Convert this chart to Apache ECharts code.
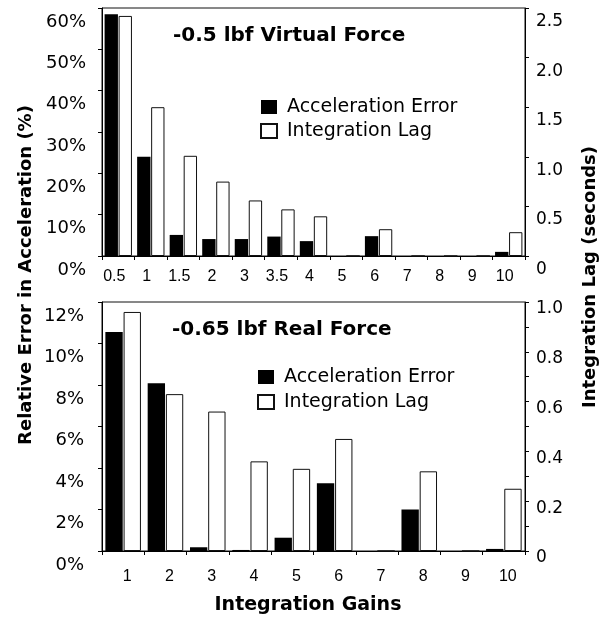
<!DOCTYPE html>
<html><head><meta charset="utf-8">
<script src="https://cdn.jsdelivr.net/npm/echarts@6/dist/echarts.min.js"></script>
<style>html,body{margin:0;padding:0;background:#fff}#c{width:610px;height:620px}</style>
</head><body><div id="c"></div>
<script>
// ---- data ----
const topGains = ['0.5','1','1.5','2','3','3.5','4','5','6','7','8','9','10'];
const topAccelError = [58.5, 24.0, 5.1, 4.1, 4.1, 4.7, 3.6, 0, 4.8, 0, 0, 0, 1.0];       // %
const topIntegrationLag = [2.42, 1.50, 1.01, 0.75, 0.56, 0.47, 0.40, 0, 0.27, 0, 0, 0, 0.24]; // s
const bottomGains = ['1','2','3','4','5','6','7','8','9','10'];
const bottomAccelError = [10.55, 8.08, 0.18, 0.05, 0.64, 3.27, 0, 2.0, 0, 0.1];          // %
const bottomIntegrationLag = [0.96, 0.63, 0.56, 0.36, 0.33, 0.45, 0, 0.32, 0, 0.25];     // s
// axis tick ranges
const topErrorRange = [0, 60, 10];
const topLagRange = [0, 2.5, 0.5];
const bottomErrorRange = [0, 12, 2];
const bottomLagRange = [0, 1.0, 0.2];
// texts
const topTitle = '-0.5 lbf Virtual Force';
const bottomTitle = '-0.65 lbf Real Force';
const seriesNames = ['Acceleration Error', 'Integration Lag'];
const leftAxisName = 'Relative Error in Acceleration (%)';
const rightAxisName = 'Integration Lag (seconds)';
const xAxisName = 'Integration Gains';

const DV = 'DejaVu Sans';
const LS = 'Liberation Sans, Arial, sans-serif';
const chart = echarts.init(document.getElementById('c'), null, {renderer: 'canvas'});

const gridBase = {left: 102, right: 85, show: true, borderColor: '#111', borderWidth: 1,
  backgroundColor: '#fff', containLabel: false, outerBoundsMode: 'none'};
const axisLineStyle = {show: true, lineStyle: {color: '#000', width: 1}};

function xAx(idx, data, pad, margin) {
  return {type: 'category', gridIndex: idx, data: data, boundaryGap: true,
    axisLine: axisLineStyle,
    axisTick: {show: true, length: 4, lineStyle: {color: '#000'}},
    axisLabel: {color: '#000', fontFamily: LS, fontSize: 16, margin: margin, padding: pad, interval: 0},
    splitLine: {show: false}};
}
function yAx(idx, range, pos, fmt, lh, margin, fs, minor) {
  return {type: 'value', gridIndex: idx, position: pos, min: range[0], max: range[1], interval: range[2],
    axisLine: axisLineStyle,
    axisTick: {show: true, length: 4, lineStyle: {color: '#000'}},
    minorTick: minor ? {show: true, splitNumber: 2, length: 4, lineStyle: {color: '#000'}} : {show: false},
    axisLabel: {color: '#000', fontFamily: DV, fontSize: fs, margin: margin, formatter: fmt,
      verticalAlign: 'top', lineHeight: lh, showMinLabel: true, showMaxLabel: true},
    splitLine: {show: false}};
}
const pctFmt = v => v + '%';
const secFmt = v => v === 0 ? '0' : v.toFixed(1);

const blackStyle = {color: '#000'};
const whiteStyle = {color: '#fff', borderColor: '#111', borderWidth: 1};

function legendAt(left, top, gap) {
  return {show: true, orient: 'vertical', left: left, top: top, padding: 0, itemGap: gap,
    itemWidth: 16, itemHeight: 14, selectedMode: false, icon: 'rect',
    data: seriesNames,
    textStyle: {color: '#000', fontFamily: DV, fontSize: 19, lineHeight: 20, padding: [0, 0, 0, 5]}};
}

const option = {
  animation: false,
  backgroundColor: '#fff',
  title: [
    {text: topTitle, left: 173, top: 26, padding: 0,
      textStyle: {fontFamily: DV, fontWeight: 'bold', fontSize: 20, lineHeight: 20, color: '#000'}},
    {text: bottomTitle, left: 172, top: 320, padding: 0,
      textStyle: {fontFamily: DV, fontWeight: 'bold', fontSize: 20, lineHeight: 20, color: '#000'}}
  ],
  legend: [legendAt(260, 97, 4), legendAt(257, 367, 5)],
  grid: [
    Object.assign({}, gridBase, {top: 8, height: 248}),
    Object.assign({}, gridBase, {top: 302, height: 249})
  ],
  xAxis: [
    xAx(0, topGains, [0, 8, 0, 0], 13),
    xAx(1, bottomGains, [0, 0, 0, 8], 18)
  ],
  yAxis: [
    yAx(0, topErrorRange, 'left', pctFmt, 28, 16, 18, false),
    yAx(0, topLagRange, 'right', secFmt, 27, 11, 17, false),
    yAx(1, bottomErrorRange, 'left', pctFmt, 28, 18, 18, false),
    yAx(1, bottomLagRange, 'right', secFmt, 14, 11, 17, true)
  ],
  series: [
    {name: seriesNames[0], type: 'bar', xAxisIndex: 0, yAxisIndex: 0, data: topAccelError,
      barWidth: '41%', barGap: '5%', itemStyle: blackStyle},
    {name: seriesNames[1], type: 'bar', xAxisIndex: 0, yAxisIndex: 1, data: topIntegrationLag,
      barWidth: '41%', barGap: '5%', itemStyle: whiteStyle},
    {name: seriesNames[0], type: 'bar', xAxisIndex: 1, yAxisIndex: 2, data: bottomAccelError,
      barWidth: '41%', barGap: '5%', itemStyle: blackStyle},
    {name: seriesNames[1], type: 'bar', xAxisIndex: 1, yAxisIndex: 3, data: bottomIntegrationLag,
      barWidth: '41%', barGap: '5%', itemStyle: whiteStyle}
  ],
  graphic: [
    {type: 'text', x: 26, y: 275, rotation: Math.PI / 2,
      style: {text: leftAxisName, fontFamily: DV, fontWeight: 'bold', fontSize: 18, fill: '#000',
        align: 'center', verticalAlign: 'middle'}},
    {type: 'text', x: 590, y: 277, rotation: Math.PI / 2,
      style: {text: rightAxisName, fontFamily: DV, fontWeight: 'bold', fontSize: 18, fill: '#000',
        align: 'center', verticalAlign: 'middle'}},
    {type: 'text', x: 308, y: 605,
      style: {text: xAxisName, fontFamily: DV, fontWeight: 'bold', fontSize: 19, fill: '#000',
        align: 'center', verticalAlign: 'middle'}}
  ]
};
chart.setOption(option);
</script></body></html>
